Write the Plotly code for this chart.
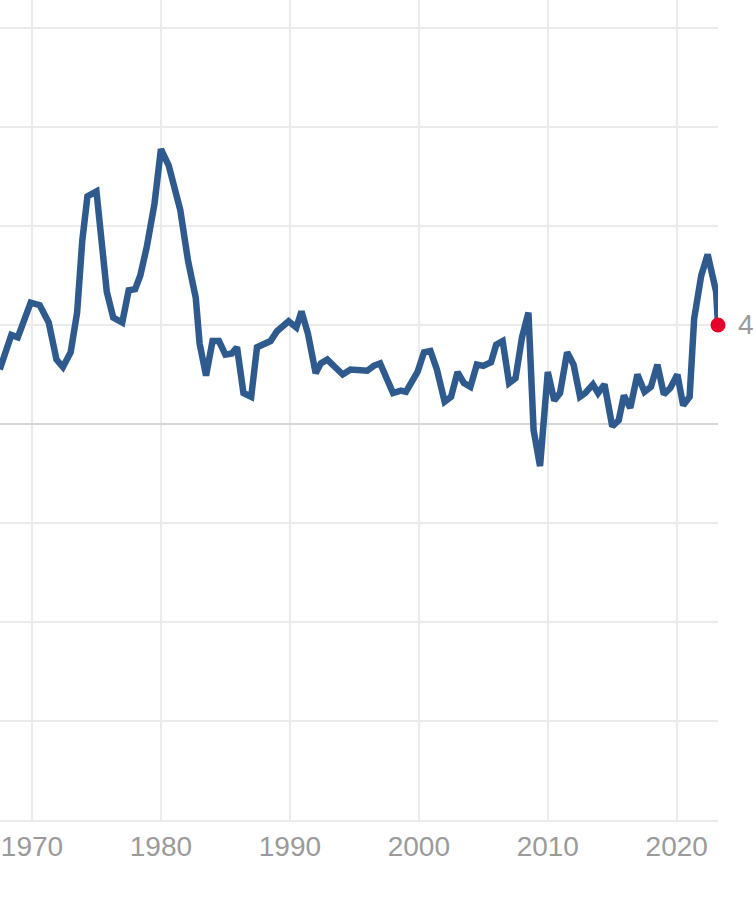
import plotly.graph_objects as go

years = [1967.5, 1968.4, 1968.9, 1969.9, 1970.6, 1971.3, 1971.9, 1972.4, 1973.0, 1973.5,
         1973.9, 1974.3, 1975.0, 1975.4, 1975.8, 1976.3, 1977.0, 1977.5, 1978.0, 1978.4,
         1978.9, 1979.5, 1980.0, 1980.6, 1981.5, 1982.1, 1982.7, 1983.0, 1983.5, 1984.0,
         1984.5, 1985.0, 1985.5, 1985.9, 1986.4, 1987.0, 1987.45, 1988.5, 1989.0, 1989.9,
         1990.5, 1990.9, 1991.4, 1992.0, 1992.4, 1992.9, 1994.1, 1994.7, 1995.3, 1996.0,
         1996.5, 1997.0, 1998.0, 1998.6, 1999.0, 1999.9, 2000.4, 2000.9, 2001.4, 2002.0,
         2002.5, 2003.0, 2003.5, 2004.0, 2004.5, 2005.0, 2005.6, 2006.0, 2006.5, 2007.0,
         2007.5, 2008.0, 2008.5, 2008.9, 2009.4, 2010.0, 2010.5, 2010.95, 2011.5, 2012.0,
         2012.5, 2012.9, 2013.5, 2013.9, 2014.4, 2015.0, 2015.5, 2015.9, 2016.4, 2016.95,
         2017.5, 2018.0, 2018.5, 2019.0, 2019.5, 2020.05, 2020.5, 2021.0, 2021.35, 2021.9,
         2022.4, 2023.05, 2023.2]
values = [2.2, 3.6, 3.5, 4.9, 4.8, 4.1, 2.6, 2.3, 2.9, 4.5,
          7.4, 9.2, 9.4, 7.4, 5.35, 4.3, 4.1, 5.4, 5.45, 6.0,
          7.15, 8.9, 11.1, 10.45, 8.65, 6.6, 5.1, 3.25, 1.95, 3.35,
          3.35, 2.8, 2.85, 3.1, 1.25, 1.1, 3.1, 3.35, 3.75, 4.15,
          3.9, 4.55, 3.65, 2.05, 2.45, 2.6, 2.0, 2.2, 2.2, 2.15,
          2.35, 2.45, 1.25, 1.35, 1.3, 2.1, 2.9, 2.95, 2.2, 0.9,
          1.1, 2.1, 1.65, 1.5, 2.4, 2.35, 2.5, 3.2, 3.35, 1.65,
          1.85, 3.5, 4.5, -0.25, -1.7, 2.1, 0.95, 1.25, 2.9, 2.4,
          1.1, 1.25, 1.6, 1.25, 1.6, -0.1, 0.15, 1.15, 0.65, 2.0,
          1.3, 1.5, 2.4, 1.2, 1.45, 2.0, 0.75, 1.1, 4.25, 6.0,
          6.85, 5.35, 4.0]
tick_years = [1970, 1980, 1990, 2000, 2010, 2020]
tick_labels = ["1970", "1980", "1990", "2000", "2010", "2020"]
last_label = "4"

fig = go.Figure()
fig.add_trace(go.Scatter(
    x=years, y=values, mode="lines",
    line=dict(color="#2e5a8e", width=6.5),
    hoverinfo="skip", showlegend=False,
))
fig.add_trace(go.Scatter(
    x=[years[-1]], y=[values[-1]], mode="markers",
    marker=dict(color="#e4002b", size=15),
    cliponaxis=False, hoverinfo="skip", showlegend=False,
))
fig.add_annotation(
    xref="paper", x=1, xanchor="left", xshift=18,
    yref="y", y=values[-1], yanchor="middle",
    text=last_label, showarrow=False,
    font=dict(family="Liberation Sans, Arial", size=28, color="#9a9a9a"),
)

fig.update_layout(
    width=755, height=898,
    margin=dict(l=0, r=37, t=0, b=78),
    paper_bgcolor="white", plot_bgcolor="white",
    xaxis=dict(
        range=[1967.52, 2023.2],
        tickvals=tick_years, ticktext=tick_labels,
        showgrid=True, gridcolor="#ebebeb", gridwidth=2,
        zeroline=False, showline=True, linecolor="#ebebeb", linewidth=2,
        ticks="", tickfont=dict(family="Liberation Sans, Arial", size=28, color="#9a9a9a"),
    ),
    yaxis=dict(
        range=[-16, 17.13], dtick=4, tick0=0,
        showgrid=True, gridcolor="#ebebeb", gridwidth=2,
        zeroline=True, zerolinecolor="#d6d6d6", zerolinewidth=2,
        showticklabels=False, ticks="",
    ),
)

fig.write_html(
    "out.html",
    config={"displayModeBar": False},
    post_script="document.body.style.margin='0';document.body.style.overflow='hidden';",
)
